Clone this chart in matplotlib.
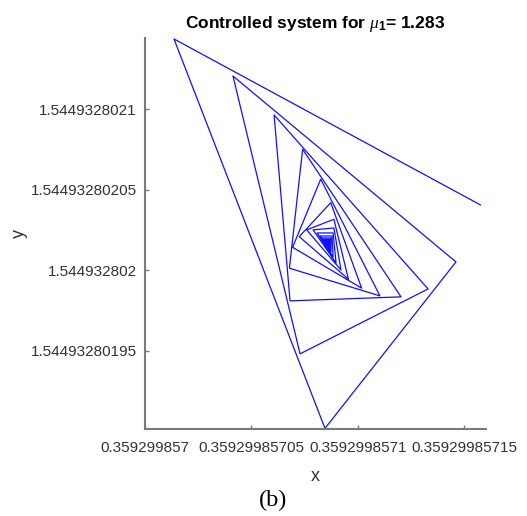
import numpy as np
import matplotlib
matplotlib.use("Agg")
import matplotlib.pyplot as plt

# trajectory of the controlled map
x_traj = [0.3592998571575, 0.3592998570136, 0.3592998570845, 0.3592998571460,
          0.3592998570413, 0.3592998570728, 0.3592998571329, 0.3592998570606,
          0.3592998570681, 0.3592998571202, 0.3592998570740, 0.3592998570678,
          0.3592998571103, 0.3592998570825, 0.3592998570693, 0.3592998571017,
          0.3592998570872, 0.3592998570724, 0.3592998570955, 0.3592998570887,
          0.3592998570759, 0.3592998570920, 0.3592998570887, 0.3592998570789,
          0.3592998570897, 0.3592998570883, 0.3592998570808, 0.3592998570883,
          0.3592998570878, 0.3592998570822, 0.3592998570873, 0.3592998570873,
          0.3592998570831, 0.3592998570869, 0.3592998570869, 0.3592998570840,
          0.3592998570866, 0.3592998570866, 0.3592998570847, 0.3592998570864,
          0.3592998570863, 0.3592998570852, 0.3592998570862, 0.3592998570861]
y_traj = [1.5449328020405, 1.5449328021436, 1.5449328019017, 1.5449328020051,
          1.5449328021206, 1.5449328019480, 1.5449328019883, 1.5449328020964,
          1.5449328019809, 1.5449328019834, 1.5449328020751, 1.5449328020012,
          1.5449328019840, 1.5449328020565, 1.5449328020142, 1.5449328019888,
          1.5449328020419, 1.5449328020208, 1.5449328019944, 1.5449328020316,
          1.5449328020250, 1.5449328020001, 1.5449328020262, 1.5449328020250,
          1.5449328020045, 1.5449328020231, 1.5449328020231, 1.5449328020082,
          1.5449328020212, 1.5449328020212, 1.5449328020113, 1.5449328020200,
          1.5449328020200, 1.5449328020132, 1.5449328020191, 1.5449328020191,
          1.5449328020150, 1.5449328020185, 1.5449328020185, 1.5449328020160,
          1.5449328020181, 1.5449328020181, 1.5449328020166, 1.5449328020178]

x_ticks = [0.359299857, 0.35929985705, 0.3592998571, 0.35929985715]
x_ticklabels = ["0.359299857", "0.35929985705", "0.3592998571", "0.35929985715"]
y_ticks = [1.54493280195, 1.544932802, 1.54493280205, 1.5449328021]
y_ticklabels = ["1.54493280195", "1.544932802", "1.54493280205", "1.5449328021"]

mu1 = 1.283

sans = ["Liberation Sans", "DejaVu Sans"]
plt.rcParams["mathtext.fontset"] = "custom"
plt.rcParams["mathtext.rm"] = "Liberation Sans:bold"
plt.rcParams["mathtext.it"] = "Liberation Serif:italic"

fig = plt.figure(figsize=(5.27, 5.16), dpi=100)
ax = fig.add_axes([145/527, 1-428.7/516, 341/527, 390.7/516])

ax.plot(x_traj, y_traj, color="#1010ff", lw=0.9)

ax.set_xlim(0.359299857, 0.3592998571601)
ax.set_ylim(1.5449328019015, 1.5449328021442)

ax.set_xticks(x_ticks)
ax.set_xticklabels(x_ticklabels, family=sans, fontsize=11, color="#333333")
ax.set_yticks(y_ticks)
ax.set_yticklabels(y_ticklabels, family=sans, fontsize=11, color="#333333")

for s in ["top", "right"]:
    ax.spines[s].set_visible(False)
for s in ["left", "bottom"]:
    ax.spines[s].set_color("#7a7a7a")
    ax.spines[s].set_linewidth(1.5)

ax.tick_params(axis="both", direction="in", length=3, width=1, color="#7a7a7a")
ax.tick_params(axis="x", pad=8.5)
ax.tick_params(axis="y", pad=5.8)

ax.set_xlabel("x", family=sans, fontsize=13, color="#333333")
ax.xaxis.set_label_coords(0.5, (428.7-468)/390.7)
ax.set_ylabel("y", family=sans, fontsize=13, color="#333333")
ax.yaxis.set_label_coords((28-145)/341, 0.5)

ax.set_title(r"Controlled system for $\mu_1$= " + str(mu1), family=sans,
             fontsize=12.5, fontweight="bold", pad=7)

fig.text(273/527, 1-500/516, "(b)", family=["Liberation Serif", "DejaVu Serif"],
         fontsize=17.5, ha="center", va="center")

fig.savefig("out.png", dpi=100)
